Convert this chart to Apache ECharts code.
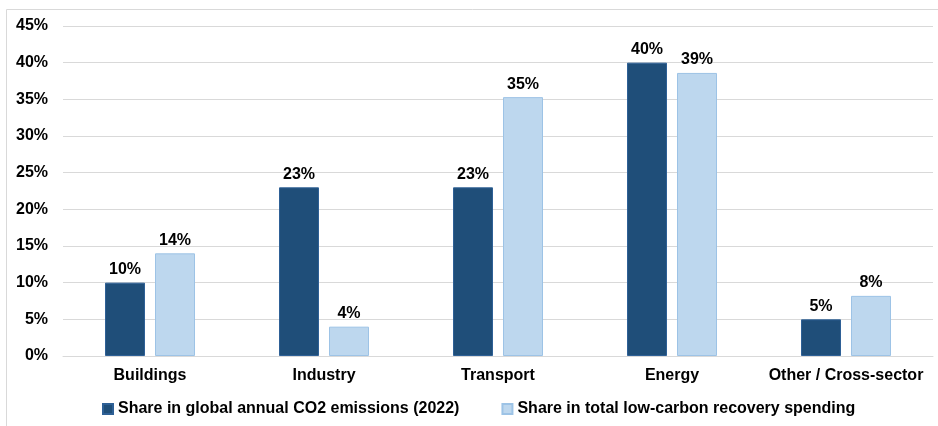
<!DOCTYPE html>
<html>
<head>
<meta charset="utf-8">
<script src="https://cdn.jsdelivr.net/npm/echarts@6/dist/echarts.min.js"></script>
<style>
  html, body { margin: 0; padding: 0; background: #fff; }
  #chart { width: 938px; height: 426px; }
</style>
</head>
<body>
<div id="chart"></div>
<script>
// Sector shares, in percent
const sectors = ['Buildings', 'Industry', 'Transport', 'Energy', 'Other / Cross-sector'];
const emissionsShare = [10, 23, 23, 40, 5];
const spendingShare = [14, 4, 35.3, 38.6, 8.2];
const seriesNames = [
  'Share in global annual CO2 emissions (2022)',
  'Share in total low-carbon recovery spending'
];

const font = 'Liberation Sans, Arial, sans-serif';
const labelStyle = {
  show: true,
  position: 'top',
  distance: 5,
  fontFamily: font,
  fontWeight: 'bold',
  fontSize: 16,
  color: '#000',
  formatter: p => Math.round(p.value) + '%'
};

const chart = echarts.init(document.getElementById('chart'), null, { renderer: 'canvas' });
chart.setOption({
  animation: false,
  graphic: [{
    type: 'rect',
    shape: { x: 6.5, y: 9.5, width: 940, height: 430 },
    style: { fill: 'none', stroke: '#d9d9d9', lineWidth: 1 },
    silent: true,
    z: -1
  }],
  grid: { left: 63, right: 5, top: 26, bottom: 70 },
  legend: {
    bottom: 4,
    left: 97,
    itemWidth: 10,
    itemHeight: 10,
    itemGap: 42,
    icon: 'rect',
    textStyle: { fontFamily: font, fontWeight: 'bold', fontSize: 16, color: '#000' },
    data: seriesNames
  },
  xAxis: {
    type: 'category',
    data: sectors,
    axisLine: { lineStyle: { color: '#d9d9d9', width: 1 } },
    axisTick: { show: false },
    axisLabel: { interval: 0, fontFamily: font, fontWeight: 'bold', fontSize: 16, color: '#000', margin: 12 }
  },
  yAxis: {
    type: 'value',
    min: 0,
    max: 45,
    interval: 5,
    axisLine: { show: false },
    axisTick: { show: false },
    splitLine: { lineStyle: { color: '#d9d9d9', width: 1 } },
    axisLabel: {
      fontFamily: font, fontWeight: 'bold', fontSize: 16, color: '#000', margin: 15,
      formatter: v => v + '%'
    }
  },
  series: [
    {
      name: seriesNames[0],
      type: 'bar',
      data: emissionsShare,
      barWidth: 40,
      barGap: '25%',
      itemStyle: { color: '#1f4e79', borderColor: '#2e6096', borderWidth: 1 },
      label: labelStyle
    },
    {
      name: seriesNames[1],
      type: 'bar',
      data: spendingShare,
      barWidth: 40,
      itemStyle: { color: '#bdd7ee', borderColor: '#9dc3e6', borderWidth: 1 },
      label: labelStyle
    }
  ]
});
</script>
</body>
</html>
